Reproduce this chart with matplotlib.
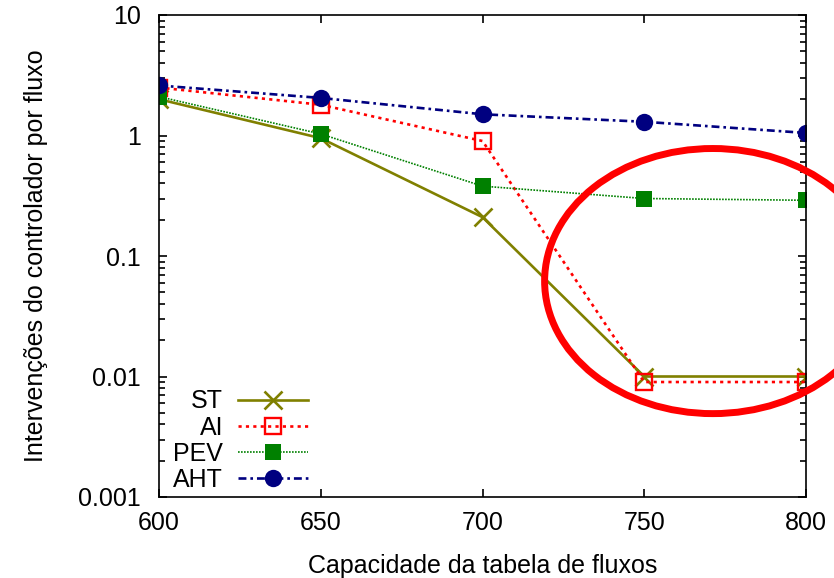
import matplotlib
matplotlib.use('Agg')
import matplotlib.pyplot as plt
from matplotlib.patches import Ellipse

plt.rcParams['font.family'] = ['Liberation Sans', 'DejaVu Sans']

# flow table capacity and controller interventions per flow
capacidade = [600, 650, 700, 750, 800]
st = [2.0, 0.95, 0.21, 0.010, 0.010]
ai = [2.5, 1.8, 0.90, 0.009, 0.009]
pev = [2.1, 1.03, 0.38, 0.30, 0.29]
aht = [2.6, 2.05, 1.5, 1.3, 1.05]

fs = 18

fig = plt.figure(figsize=(8.34, 5.78), dpi=100)
ax = fig.add_axes([159/834, 1 - 497/578, (806-159)/834, (497-15)/578])

ax.plot(capacidade, st, color='#808000', lw=1.9, ls='-', marker='x',
        ms=12.5, mew=1.9, label='ST')
ax.plot(capacidade, ai, color='#ff0000', lw=1.9, ls=(0, (1.2, 1.6)), marker='s',
        ms=11.5, mfc='none', mew=1.7, label='AI')
ax.plot(capacidade, pev, color='#008000', lw=1.2, ls=(0, (1, 0.8)), marker='s',
        ms=11.5, mew=0, label='PEV')
ax.plot(capacidade, aht, color='#000080', lw=1.9, ls=(0, (3, 1.5, 1, 1.5)), marker='o',
        ms=12.5, mew=0, label='AHT')

ax.set_yscale('log')
ax.set_xlim(600, 800)
ax.set_ylim(0.001, 10)
ax.set_xticks([600, 650, 700, 750, 800])
ax.set_yticks([0.001, 0.01, 0.1, 1, 10])
ax.set_yticklabels(['0.001', '0.01', '0.1', '1', '10'])

ax.tick_params(which='both', direction='in', top=True, right=True,
               labelsize=fs, width=1.2)
ax.tick_params(axis='y', which='major', length=6, pad=13)
ax.tick_params(axis='y', which='minor', length=4)
ax.tick_params(axis='x', which='major', length=6, pad=10)
for s in ax.spines.values():
    s.set_linewidth(1.2)

ax.set_xlabel('Capacidade da tabela de fluxos', fontsize=fs, labelpad=14)
ax.set_ylabel('Intervenções do controlador por fluxo', fontsize=fs, labelpad=22)

ax.legend(loc='lower left', frameon=False, markerfirst=False, fontsize=fs,
          handlelength=2.8, handletextpad=0.6, labelspacing=0.09,
          borderpad=0.0, borderaxespad=0.0, bbox_to_anchor=(0.022, 0.01))

# red circle around the last two capacities
ax.add_patch(Ellipse((0.856, 0.448), 0.52, 0.55, transform=ax.transAxes,
                     fill=False, ec='#ff0000', lw=5.0, clip_on=False, zorder=5))

fig.savefig('out.png', dpi=100)
